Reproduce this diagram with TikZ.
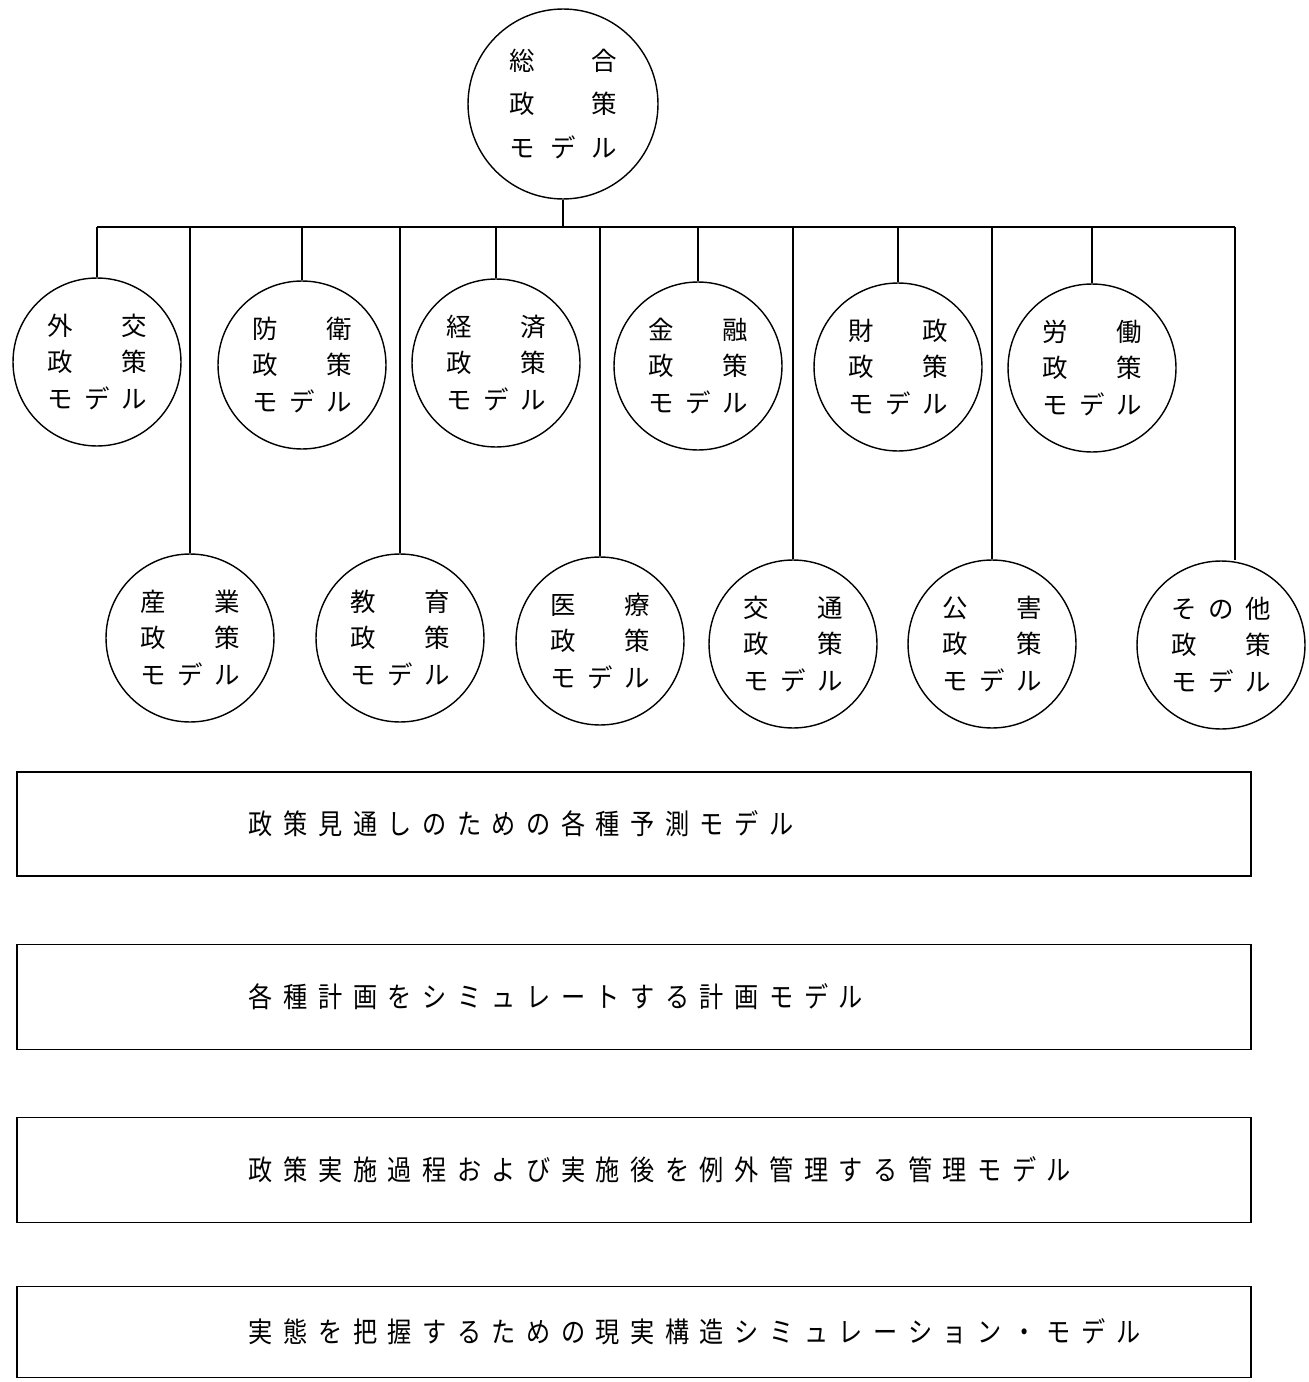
\documentclass[tikz,border=0pt]{standalone}
\usepackage{fontspec}
\setmainfont{Noto Sans CJK JP}
\newfontfamily\boxfont[FakeStretch=0.86]{Noto Sans CJK JP}
\usetikzlibrary{positioning}
% three characters on one line of a circle
\newcommand\trio[4][0.74cm]{\makebox[#1]{#2}\makebox[#1]{#3}\makebox[#1]{#4}}
\newcommand\pmodel[3]{\trio{#1}{#2}{#3}\\\trio{政}{}{策}\\\trio{モ}{デ}{ル}}
% wide letter spacing for the box texts
\newcommand\spaced[1]{\spacedstep#1\relax}
\def\spacedstep#1{\ifx\relax#1\else\makebox[0.694cm][l]{#1}\expandafter\spacedstep\fi}

\begin{document}
\begin{tikzpicture}[x=0.02cm, y=-0.02cm,
    policy/.style={circle, draw, line width=0.8pt, minimum size=3.36cm, inner sep=0pt,
      align=center, font=\fontsize{14.5}{21}\selectfont},
    modelbox/.style={draw, line width=1.1pt, minimum width=24.7cm, inner sep=0pt},
    boxlabel/.style={inner sep=0pt, font=\boxfont\fontsize{16}{18}\selectfont}]
  \useasboundingbox (0,0) rectangle (1308,1382);
  % top
  \node[policy, minimum size=3.8cm, font=\fontsize{14.5}{24.5}\selectfont] (sogo) at (563,104)
    {\trio[0.82cm]{総}{}{合}\\\trio[0.82cm]{政}{}{策}\\\trio[0.82cm]{モ}{デ}{ル}};
  \coordinate (busL) at (97,227);
  \coordinate (busR) at (1235,227);
  \draw[line width=0.8pt] (sogo.south) -- (sogo.south |- busL);
  \draw[line width=0.8pt] (busL) -- (busR);
  % upper row
  \node[policy] (gaiko)  at (97,362)   {\pmodel{外}{}{交}};
  \node[policy] (boei)   at (302,365)  {\pmodel{防}{}{衛}};
  \node[policy] (keizai) at (496,363)  {\pmodel{経}{}{済}};
  \node[policy] (kinyu)  at (698,366)  {\pmodel{金}{}{融}};
  \node[policy] (zaisei) at (898,367)  {\pmodel{財}{}{政}};
  \node[policy] (rodo)   at (1092,368) {\pmodel{労}{}{働}};
  % lower row
  \node[policy] (sangyo) at (190,638)  {\pmodel{産}{}{業}};
  \node[policy] (kyoiku) at (400,638)  {\pmodel{教}{}{育}};
  \node[policy] (iryo)   at (600,641)  {\pmodel{医}{}{療}};
  \node[policy] (kotsu)  at (793,644)  {\pmodel{交}{}{通}};
  \node[policy] (kogai)  at (992,644)  {\pmodel{公}{}{害}};
  \node[policy] (sonota) at (1221,645) {\pmodel{そ}{の}{他}};
  \foreach \n in {gaiko,boei,keizai,kinyu,zaisei,rodo,sangyo,kyoiku,iryo,kotsu,kogai}
    \draw[line width=0.8pt] (\n.north) -- (\n.north |- busL);
  \draw[line width=0.8pt] (busR) -- (busR |- sonota.north);
  % model boxes
  \node[modelbox, minimum height=2.08cm] (yosoku) at (634,824) {};
  \node[boxlabel, right=4.66cm of yosoku.west] (yosokuT) {\spaced{政策見通しのための各種予測モデル}};
  \node[modelbox, minimum height=2.1cm] (keikaku) at (634,997) {};
  \node[boxlabel, right=4.66cm of keikaku.west] (keikakuT) {\spaced{各種計画をシミュレートする計画モデル}};
  \node[modelbox, minimum height=2.1cm] (kanri) at (634,1170) {};
  \node[boxlabel, right=4.66cm of kanri.west] (kanriT) {\spaced{政策実施過程および実施後を例外管理する管理モデル}};
  \node[modelbox, minimum height=1.82cm] (genjitsu) at (634,1332) {};
  \node[boxlabel, right=4.66cm of genjitsu.west] (genjitsuT) {\spaced{実態を把握するための現実構造シミュレーション・モデル}};
\end{tikzpicture}
\end{document}
